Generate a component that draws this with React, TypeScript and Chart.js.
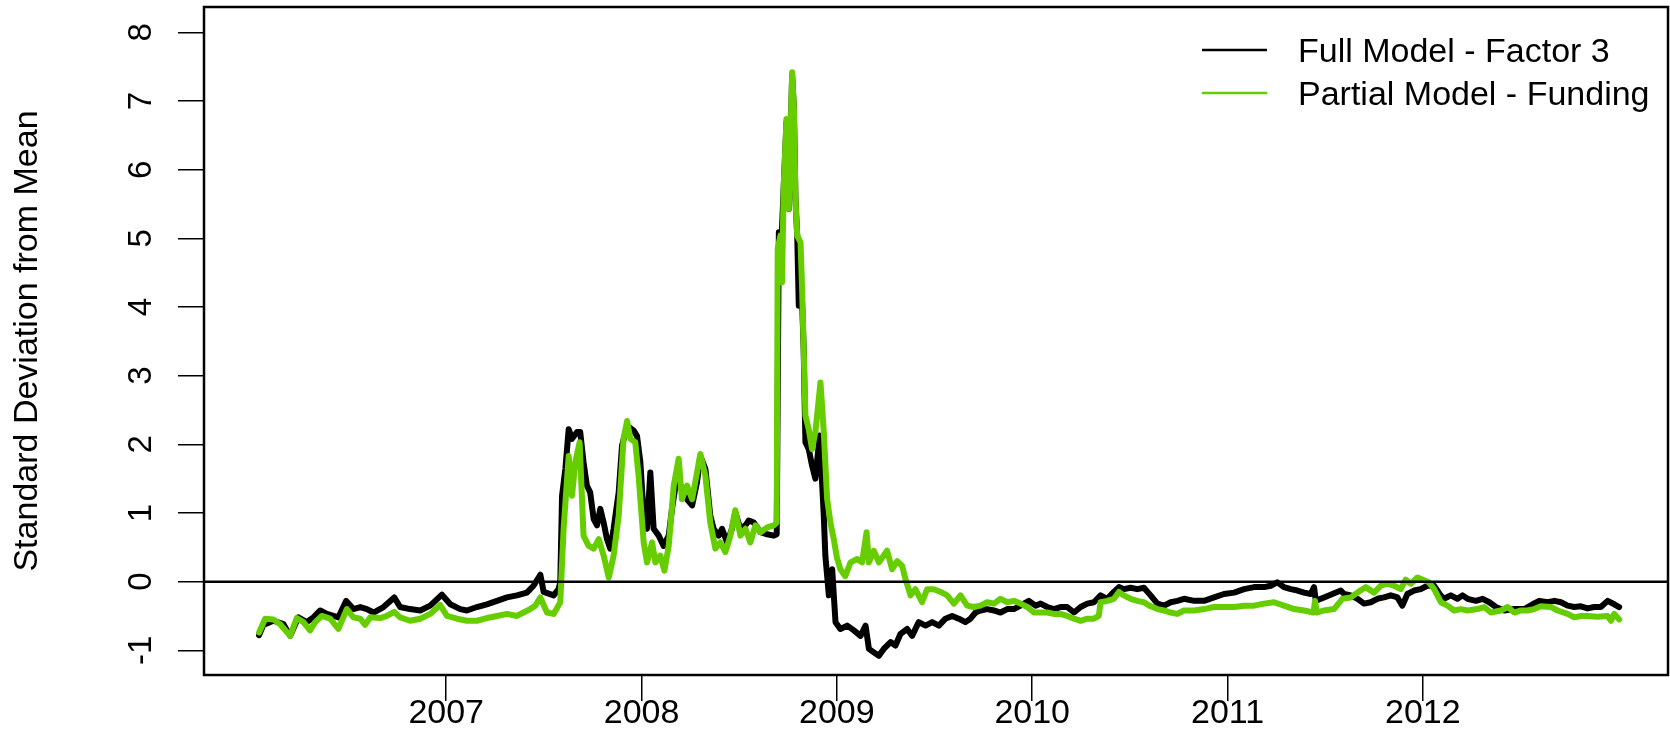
import React, { useEffect, useRef } from "react";
import { Chart, registerables } from "chart.js";

Chart.register(...registerables);

const seriesLabels = ["Full Model - Factor 3", "Partial Model - Funding"];
const seriesColors = ["#000000", "#66CD00"];
const yAxisTitle = "Standard Deviation from Mean";
const xTickYears = [2007, 2008, 2009, 2010, 2011, 2012];
const yTickValues = [-1, 0, 1, 2, 3, 4, 5, 6, 7, 8];

const fullDates = [
  2006.042, 2006.064, 2006.115, 2006.167, 2006.201, 2006.243, 2006.286, 2006.32, 2006.355, 2006.389,
  2006.423, 2006.448, 2006.488, 2006.525, 2006.56, 2006.594, 2006.628, 2006.679, 2006.734, 2006.764,
  2006.815, 2006.867, 2006.918, 2006.978, 2007.021, 2007.072, 2007.106, 2007.157, 2007.208, 2007.26,
  2007.311, 2007.362, 2007.413, 2007.447, 2007.482, 2007.499, 2007.55, 2007.575, 2007.584, 2007.593,
  2007.61, 2007.627, 2007.644, 2007.67, 2007.686, 2007.703, 2007.72, 2007.737, 2007.755, 2007.772,
  2007.789, 2007.806, 2007.823, 2007.84, 2007.857, 2007.883, 2007.9, 2007.926, 2007.96, 2007.977,
  2007.994, 2008.011, 2008.028, 2008.045, 2008.062, 2008.088, 2008.113, 2008.139, 2008.156, 2008.182,
  2008.207, 2008.233, 2008.259, 2008.284, 2008.301, 2008.327, 2008.352, 2008.369, 2008.395, 2008.412,
  2008.438, 2008.463, 2008.48, 2008.506, 2008.532, 2008.549, 2008.575, 2008.609, 2008.643, 2008.677,
  2008.692, 2008.703, 2008.715, 2008.728, 2008.742, 2008.754, 2008.771, 2008.78, 2008.788, 2008.797,
  2008.805, 2008.822, 2008.83, 2008.839, 2008.856, 2008.873, 2008.89, 2008.912, 2008.933, 2008.941,
  2008.959, 2008.976, 2008.993, 2009.018, 2009.053, 2009.087, 2009.121, 2009.147, 2009.164, 2009.189,
  2009.215, 2009.24, 2009.275, 2009.3, 2009.326, 2009.36, 2009.385, 2009.419, 2009.454, 2009.488,
  2009.522, 2009.556, 2009.59, 2009.624, 2009.658, 2009.684, 2009.71, 2009.735, 2009.769, 2009.804,
  2009.838, 2009.872, 2009.906, 2009.94, 2009.983, 2010.017, 2010.043, 2010.077, 2010.111, 2010.145,
  2010.179, 2010.214, 2010.248, 2010.282, 2010.316, 2010.35, 2010.384, 2010.418, 2010.444, 2010.469,
  2010.504, 2010.538, 2010.572, 2010.606, 2010.641, 2010.675, 2010.709, 2010.743, 2010.777, 2010.829,
  2010.88, 2010.931, 2010.982, 2011.034, 2011.085, 2011.136, 2011.187, 2011.221, 2011.255, 2011.289,
  2011.324, 2011.358, 2011.392, 2011.426, 2011.443, 2011.452, 2011.494, 2011.537, 2011.58, 2011.597,
  2011.631, 2011.665, 2011.699, 2011.733, 2011.767, 2011.801, 2011.836, 2011.87, 2011.895, 2011.921,
  2011.955, 2011.989, 2012.023, 2012.057, 2012.091, 2012.108, 2012.143, 2012.177, 2012.203, 2012.229,
  2012.272, 2012.306, 2012.34, 2012.374, 2012.417, 2012.468, 2012.519, 2012.562, 2012.596, 2012.639,
  2012.673, 2012.707, 2012.741, 2012.775, 2012.809, 2012.843, 2012.877, 2012.911, 2012.946, 2012.98,
  2013.005,
];
const fullValues = [
  -0.78, -0.63, -0.57, -0.62, -0.79, -0.52, -0.59, -0.52, -0.42, -0.47,
  -0.5, -0.52, -0.28, -0.4, -0.37, -0.4, -0.45, -0.37, -0.23, -0.37,
  -0.4, -0.42, -0.35, -0.19, -0.33, -0.4, -0.42, -0.37, -0.33, -0.28,
  -0.23, -0.2, -0.16, -0.06, 0.1, -0.15, -0.2, -0.11, -0.01, 1.25,
  1.64, 2.22, 2.08, 2.18, 2.18, 1.74, 1.4, 1.3, 0.91, 0.82,
  1.06, 0.86, 0.62, 0.48, 0.77, 1.3, 1.98, 2.27, 2.2, 2.12,
  1.74, 0.96, 0.77, 1.59, 0.77, 0.67, 0.52, 0.67, 1.06, 1.54,
  1.35, 1.2, 1.11, 1.45, 1.83, 1.64, 0.96, 0.77, 0.67, 0.77,
  0.57, 0.77, 1.01, 0.77, 0.82, 0.89, 0.86, 0.72, 0.69, 0.67,
  0.69, 5.09, 4.85, 5.77, 6.69, 5.43, 7.37, 6.89, 5.57, 5.04,
  4.02, 4.07, 3.39, 2.03, 1.93, 1.69, 1.5, 2.13, 0.96, 0.38,
  -0.2, 0.18, -0.59, -0.69, -0.64, -0.71, -0.79, -0.64, -0.98, -1.03,
  -1.08, -0.98, -0.88, -0.93, -0.76, -0.69, -0.79, -0.59, -0.64, -0.59,
  -0.64, -0.54, -0.5, -0.54, -0.59, -0.54, -0.45, -0.42, -0.4, -0.42,
  -0.45, -0.4, -0.4, -0.35, -0.28, -0.35, -0.32, -0.37, -0.4, -0.37,
  -0.37, -0.45, -0.37, -0.32, -0.3, -0.2, -0.25, -0.15, -0.08, -0.11,
  -0.09, -0.11, -0.09, -0.2, -0.32, -0.35, -0.3, -0.28, -0.25, -0.28,
  -0.28, -0.23, -0.18, -0.16, -0.11, -0.08, -0.08, -0.06, -0.01, -0.08,
  -0.11, -0.13, -0.16, -0.18, -0.08, -0.28, -0.23, -0.18, -0.13, -0.18,
  -0.2, -0.25, -0.32, -0.3, -0.25, -0.23, -0.2, -0.23, -0.35, -0.18,
  -0.13, -0.11, -0.06, -0.06, -0.2, -0.25, -0.2, -0.25, -0.2, -0.25,
  -0.28, -0.25, -0.3, -0.37, -0.42, -0.4, -0.4, -0.33, -0.28, -0.3,
  -0.28, -0.3, -0.35, -0.37, -0.36, -0.39, -0.37, -0.37, -0.28, -0.33,
  -0.37,
];

const partialDates = [
  2006.042, 2006.073, 2006.115, 2006.15, 2006.201, 2006.235, 2006.269, 2006.303, 2006.329, 2006.363,
  2006.406, 2006.448, 2006.491, 2006.525, 2006.56, 2006.585, 2006.611, 2006.662, 2006.696, 2006.734,
  2006.764, 2006.815, 2006.867, 2006.918, 2006.969, 2007.004, 2007.055, 2007.106, 2007.157, 2007.208,
  2007.26, 2007.311, 2007.362, 2007.396, 2007.43, 2007.456, 2007.482, 2007.516, 2007.55, 2007.584,
  2007.601, 2007.627, 2007.644, 2007.661, 2007.683, 2007.703, 2007.729, 2007.755, 2007.781, 2007.806,
  2007.832, 2007.857, 2007.883, 2007.908, 2007.926, 2007.943, 2007.968, 2007.985, 2008.011, 2008.028,
  2008.054, 2008.071, 2008.096, 2008.117, 2008.139, 2008.165, 2008.19, 2008.207, 2008.233, 2008.259,
  2008.284, 2008.301, 2008.327, 2008.352, 2008.378, 2008.404, 2008.429, 2008.455, 2008.48, 2008.506,
  2008.532, 2008.557, 2008.583, 2008.609, 2008.643, 2008.677, 2008.692, 2008.697, 2008.711, 2008.719,
  2008.728, 2008.742, 2008.754, 2008.771, 2008.78, 2008.788, 2008.797, 2008.814, 2008.822, 2008.83,
  2008.839, 2008.856, 2008.873, 2008.89, 2008.916, 2008.933, 2008.95, 2008.967, 2008.984, 2009.0,
  2009.018, 2009.043, 2009.07, 2009.104, 2009.129, 2009.152, 2009.164, 2009.189, 2009.215, 2009.24,
  2009.257, 2009.283, 2009.309, 2009.334, 2009.351, 2009.377, 2009.402, 2009.436, 2009.462, 2009.496,
  2009.531, 2009.565, 2009.599, 2009.633, 2009.667, 2009.701, 2009.735, 2009.769, 2009.804, 2009.838,
  2009.872, 2009.906, 2009.94, 2009.974, 2010.009, 2010.043, 2010.077, 2010.111, 2010.145, 2010.179,
  2010.214, 2010.248, 2010.282, 2010.316, 2010.341, 2010.35, 2010.384, 2010.418, 2010.444, 2010.469,
  2010.504, 2010.538, 2010.572, 2010.607, 2010.641, 2010.675, 2010.709, 2010.743, 2010.777, 2010.829,
  2010.88, 2010.931, 2010.982, 2011.034, 2011.085, 2011.136, 2011.187, 2011.238, 2011.289, 2011.341,
  2011.392, 2011.44, 2011.448, 2011.457, 2011.494, 2011.545, 2011.588, 2011.631, 2011.665, 2011.707,
  2011.75, 2011.784, 2011.818, 2011.853, 2011.887, 2011.912, 2011.938, 2011.972, 2011.997, 2012.031,
  2012.058, 2012.092, 2012.126, 2012.16, 2012.194, 2012.229, 2012.28, 2012.314, 2012.348, 2012.4,
  2012.434, 2012.468, 2012.502, 2012.536, 2012.57, 2012.604, 2012.656, 2012.69, 2012.741, 2012.775,
  2012.809, 2012.843, 2012.894, 2012.946, 2012.963, 2012.98, 2013.005,
];
const partialValues = [
  -0.74, -0.54, -0.55, -0.62, -0.79, -0.53, -0.59, -0.71, -0.59, -0.5,
  -0.54, -0.69, -0.4, -0.52, -0.54, -0.63, -0.52, -0.53, -0.5, -0.44,
  -0.52, -0.57, -0.54, -0.47, -0.34, -0.5, -0.54, -0.57, -0.57, -0.53,
  -0.5, -0.47, -0.5, -0.45, -0.4, -0.35, -0.23, -0.45, -0.47, -0.3,
  0.77, 1.83, 1.25, 1.74, 2.03, 0.67, 0.52, 0.48, 0.62, 0.38,
  0.06, 0.38, 0.96, 2.08, 2.34, 2.08, 2.03, 1.54, 0.57, 0.28,
  0.57, 0.28, 0.38, 0.16, 0.52, 1.4, 1.79, 1.2, 1.4, 1.2,
  1.59, 1.86, 1.54, 0.86, 0.48, 0.57, 0.43, 0.67, 1.04, 0.67,
  0.77, 0.57, 0.82, 0.72, 0.79, 0.82, 0.86, 4.85, 5.04, 4.36,
  5.77, 6.74, 5.43, 7.42, 6.89, 5.57, 5.04, 4.94, 4.27, 3.39,
  2.42, 2.22, 1.93, 2.18, 2.9, 2.18, 1.21, 0.86, 0.62, 0.35,
  0.18, 0.08, 0.28, 0.33, 0.28, 0.72, 0.28, 0.45, 0.28, 0.38,
  0.45, 0.18, 0.3, 0.23, 0.04, -0.2, -0.11, -0.3, -0.11, -0.11,
  -0.15, -0.2, -0.32, -0.2, -0.35, -0.37, -0.35, -0.3, -0.32, -0.25,
  -0.3, -0.28, -0.32, -0.37, -0.45, -0.45, -0.45, -0.47, -0.47, -0.5,
  -0.54, -0.57, -0.54, -0.54, -0.5, -0.3, -0.28, -0.25, -0.15, -0.2,
  -0.25, -0.28, -0.3, -0.36, -0.4, -0.42, -0.45, -0.47, -0.42, -0.42,
  -0.4, -0.37, -0.37, -0.37, -0.35, -0.35, -0.32, -0.3, -0.35, -0.4,
  -0.42, -0.45, -0.28, -0.45, -0.42, -0.4, -0.25, -0.23, -0.16, -0.08,
  -0.16, -0.06, -0.03, -0.06, -0.11, 0.03, -0.03, 0.06, 0.03, -0.01,
  -0.11, -0.3, -0.35, -0.42, -0.4, -0.42, -0.4, -0.37, -0.45, -0.42,
  -0.37, -0.45, -0.42, -0.42, -0.4, -0.36, -0.37, -0.42, -0.47, -0.52,
  -0.5, -0.5, -0.51, -0.5, -0.57, -0.47, -0.55,
];

const W = 1670;
const H = 734;
const TICK_FONT = '"Liberation Sans Narrow", "Arial Narrow", "Liberation Sans", Arial, sans-serif';
const TEXT_FONT = '"Liberation Sans", Arial, sans-serif';

const rPlotPlugin = {
  id: "rPlot",
  afterDatasetsDraw(chart: any) {
    const { ctx, chartArea, scales } = chart;
    const { left, right, top, bottom } = chartArea;
    const y = scales.y;
    ctx.save();
    ctx.strokeStyle = "#000";
    ctx.lineWidth = 2.5;
    const y0 = y.getPixelForValue(0);
    ctx.beginPath();
    ctx.moveTo(left, y0);
    ctx.lineTo(right, y0);
    ctx.stroke();
    ctx.strokeRect(left, top, right - left, bottom - top);

    ctx.fillStyle = "#000";
    ctx.textAlign = "center";
    ctx.textBaseline = "middle";
    ctx.font = `33px ${TICK_FONT}`;
    yTickValues.forEach((v) => {
      const py = y.getPixelForValue(v);
      ctx.save();
      ctx.translate(142, py);
      ctx.rotate(-Math.PI / 2);
      ctx.fillText(String(v), 0, 0);
      ctx.restore();
    });

    ctx.save();
    ctx.font = `34px ${TEXT_FONT}`;
    ctx.translate(28, (top + bottom) / 2);
    ctx.rotate(-Math.PI / 2);
    ctx.fillText(yAxisTitle, 0, 0);
    ctx.restore();

    const legendY = [50, 93];
    seriesLabels.forEach((lab, i) => {
      ctx.strokeStyle = seriesColors[i];
      ctx.lineWidth = 2.5;
      ctx.beginPath();
      ctx.moveTo(1202, legendY[i]);
      ctx.lineTo(1267, legendY[i]);
      ctx.stroke();
      ctx.font = `34px ${TEXT_FONT}`;
      ctx.textAlign = "left";
      ctx.fillStyle = "#000";
      ctx.fillText(lab, 1298, legendY[i] + 3);
    });
    ctx.restore();
  },
};

export default function App() {
  const canvasRef = useRef<HTMLCanvasElement | null>(null);

  useEffect(() => {
    const canvas = canvasRef.current;
    if (!canvas) return;
    const makePoints = (xs: number[], ys: number[]) => xs.map((x, i) => ({ x, y: ys[i] }));
    const chart = new Chart(canvas, {
      type: "line",
      data: {
        datasets: [
          {
            label: seriesLabels[0],
            data: makePoints(fullDates, fullValues),
            borderColor: seriesColors[0],
            backgroundColor: seriesColors[0],
            borderWidth: 6,
            pointRadius: 0,
            tension: 0,
            borderJoinStyle: "round",
            borderCapStyle: "round",
            order: 2,
          },
          {
            label: seriesLabels[1],
            data: makePoints(partialDates, partialValues),
            borderColor: seriesColors[1],
            backgroundColor: seriesColors[1],
            borderWidth: 6,
            pointRadius: 0,
            tension: 0,
            borderJoinStyle: "round",
            borderCapStyle: "round",
            order: 1,
          },
        ],
      },
      options: {
        animation: false,
        responsive: false,
        devicePixelRatio: 1,
        layout: { padding: { top: 7, right: 2, left: 0, bottom: 0 } },
        plugins: { legend: { display: false }, tooltip: { enabled: false } },
        scales: {
          x: {
            type: "linear",
            min: 2005.76,
            max: 2013.255,
            afterBuildTicks: (scale: any) => {
              scale.ticks = xTickYears.map((v) => ({ value: v }));
            },
            afterFit: (scale: any) => {
              scale.height = 59;
            },
            ticks: {
              autoSkip: false,
              maxRotation: 0,
              minRotation: 0,
              padding: -8,
              color: "#000",
              font: { family: TICK_FONT, size: 34 },
              callback: (v: any) => String(v),
            },
            grid: { drawOnChartArea: false, drawTicks: true, tickLength: 26, color: "#000", lineWidth: 1.5 },
            border: { display: false },
          },
          y: {
            type: "linear",
            min: -1.36,
            max: 8.37,
            afterBuildTicks: (scale: any) => {
              scale.ticks = yTickValues.map((v) => ({ value: v }));
            },
            afterFit: (scale: any) => {
              scale.width = 204;
            },
            ticks: { display: false },
            grid: { drawOnChartArea: false, drawTicks: true, tickLength: 26, color: "#000", lineWidth: 1.5 },
            border: { display: false },
          },
        },
      },
      plugins: [rPlotPlugin],
    } as any);
    return () => chart.destroy();
  }, []);

  return (
    <div style={{ position: "absolute", left: 0, top: 0, width: W, height: H, background: "#fff" }}>
      <canvas ref={canvasRef} width={W} height={H} style={{ display: "block" }} />
    </div>
  );
}
